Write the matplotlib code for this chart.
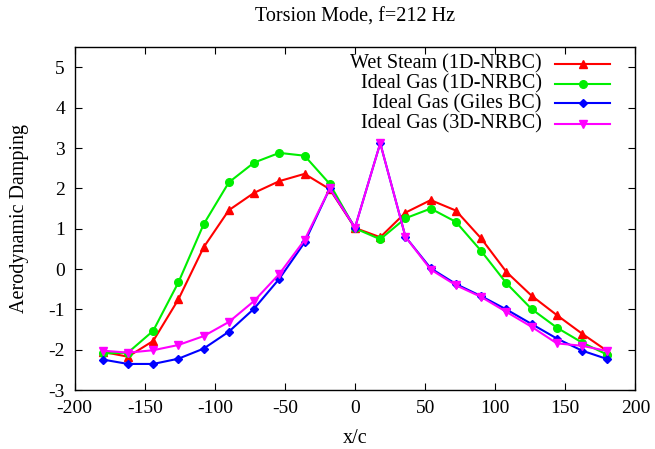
import matplotlib
matplotlib.use("Agg")
import matplotlib.pyplot as plt
from matplotlib.lines import Line2D

plt.rcParams["font.family"] = ["Liberation Serif", "DejaVu Serif"]
plt.rcParams["axes.unicode_minus"] = False

# x/c positions
x_c = [-180, -162, -144, -126, -108, -90, -72, -54, -36, -18, 0,
       18, 36, 54, 72, 90, 108, 126, 144, 162, 180]

wet_steam_1d = [-2.05, -2.17, -1.78, -0.75, 0.54, 1.46, 1.89, 2.18, 2.36, 1.98, 1.02,
                0.79, 1.40, 1.71, 1.45, 0.76, -0.07, -0.66, -1.14, -1.60, -2.03]
ideal_gas_1d = [-2.09, -2.07, -1.53, -0.33, 1.11, 2.15, 2.64, 2.88, 2.81, 2.11, 1.01,
                0.74, 1.26, 1.50, 1.17, 0.45, -0.35, -0.99, -1.45, -1.82, -2.12]
ideal_gas_giles = [-2.24, -2.35, -2.35, -2.22, -1.97, -1.55, -0.98, -0.24, 0.66, 2.00, 1.03,
                   3.12, 0.80, 0.02, -0.37, -0.67, -1.00, -1.36, -1.72, -2.02, -2.23]
ideal_gas_3d = [-2.02, -2.07, -2.01, -1.88, -1.66, -1.31, -0.79, -0.12, 0.72, 2.00, 1.03,
                3.12, 0.80, -0.01, -0.40, -0.69, -1.06, -1.43, -1.84, -1.90, -2.03]

labels = ["Wet Steam (1D-NRBC)", "Ideal Gas (1D-NRBC)",
          "Ideal Gas (Giles BC)", "Ideal Gas (3D-NRBC)"]
series = [wet_steam_1d, ideal_gas_1d, ideal_gas_giles, ideal_gas_3d]
colours = ["#FF0000", "#00EE00", "#0000FF", "#FF00FF"]
markers = ["^", "o", "D", "v"]
msizes = [6, 5.5, 4.5, 6]

FS = 14.5

fig = plt.figure(figsize=(6.55, 4.49), dpi=100)
ax = fig.add_axes([0.114, 0.131, 0.856, 0.764])

for vals, lab, col, mk, ms in zip(series, labels, colours, markers, msizes):
    ax.plot(x_c, vals, color=col, marker=mk, markersize=ms, linewidth=1.5,
            markeredgecolor=col, label=lab)

ax.set_xlim(-200, 200)
ax.set_ylim(-3, 5.5)
ax.set_xticks(range(-200, 201, 50))
ax.set_yticks(range(-3, 6))
ax.tick_params(direction="in", top=True, right=True, labelsize=14, length=5, pad=7)
for s in ax.spines.values():
    s.set_linewidth(1.0)

ax.set_xlabel("x/c", fontsize=FS, labelpad=9)
ax.set_ylabel("Aerodynamic Damping", fontsize=FS, labelpad=14)
fig.text(0.542, 0.962, "Torsion Mode, f=212 Hz", ha="center", va="center", fontsize=FS)

# gnuplot-style key: text right-aligned, sample to the right
rows_y = [0.952, 0.894, 0.836, 0.776]
for yy, lab, col, mk, ms in zip(rows_y, labels, colours, markers, msizes):
    ax.text(0.833, yy, lab, transform=ax.transAxes, ha="right", va="center", fontsize=FS)
    ax.add_line(Line2D([0.857, 0.955], [yy, yy], transform=ax.transAxes,
                       color=col, linewidth=1.5))
    ax.add_line(Line2D([0.906], [yy], transform=ax.transAxes, color=col,
                       marker=mk, markersize=ms, markeredgecolor=col))

fig.savefig("out.png", dpi=100)
